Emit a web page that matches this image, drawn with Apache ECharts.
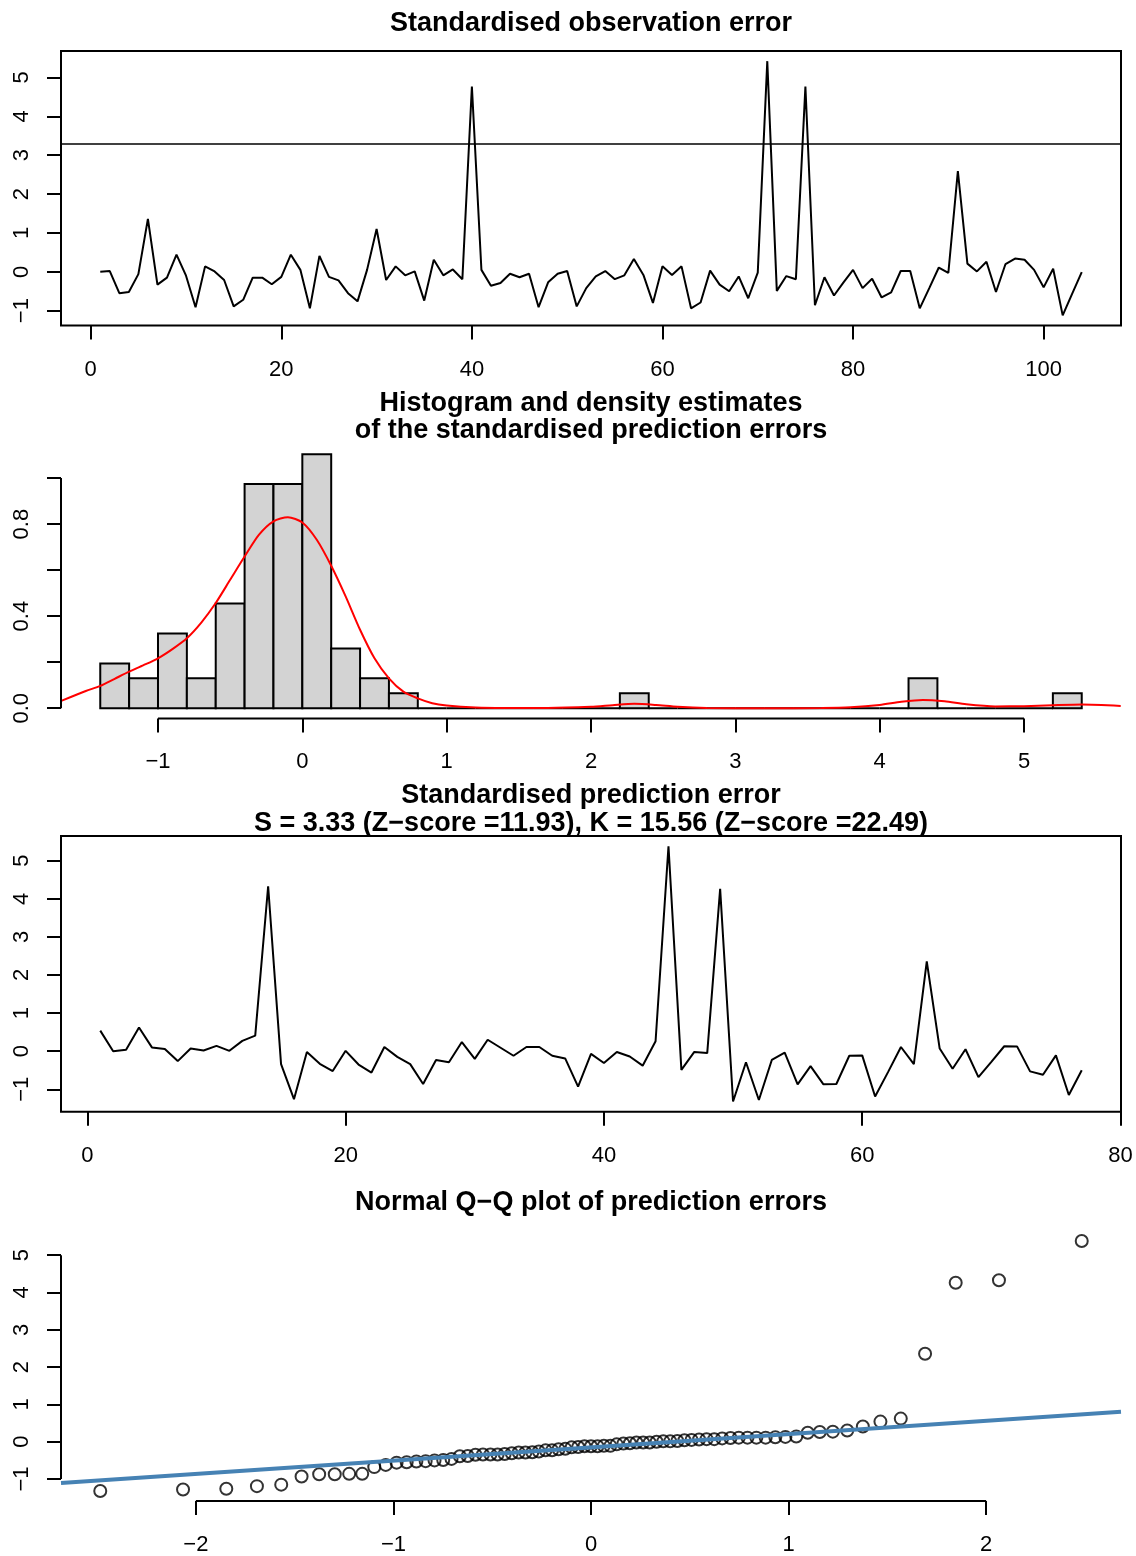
<!DOCTYPE html>
<html><head><meta charset="utf-8">
<script src="https://cdn.jsdelivr.net/npm/echarts@6/dist/echarts.min.js"></script>
<style>html,body{margin:0;padding:0;background:#fff}#c{width:1136px;height:1556px}</style>
</head><body><div id="c"></div>
<script>
// ---------- data ----------
const obsErr = [0.00,0.02,-0.55,-0.52,-0.06,1.36,-0.33,-0.15,0.44,-0.10,
  -0.91,0.14,0.01,-0.21,-0.89,-0.72,-0.15,-0.15,-0.32,-0.13,
  0.44,0.05,-0.94,0.41,-0.13,-0.22,-0.55,-0.76,0.05,1.10,
  -0.21,0.14,-0.09,0.01,-0.74,0.31,-0.09,0.06,-0.19,4.77,
  0.05,-0.36,-0.29,-0.05,-0.14,-0.05,-0.91,-0.27,-0.05,0.02,
  -0.89,-0.42,-0.12,0.02,-0.19,-0.09,0.33,-0.08,-0.80,0.14,
  -0.08,0.14,-0.94,-0.79,0.03,-0.33,-0.50,-0.12,-0.68,-0.02,
  5.42,-0.49,-0.11,-0.19,4.77,-0.86,-0.14,-0.61,-0.27,0.05,
  -0.42,-0.18,-0.66,-0.53,0.02,0.02,-0.94,-0.42,0.11,-0.03,
  2.59,0.21,0.01,0.26,-0.52,0.20,0.34,0.31,0.05,-0.40,
  0.08,-1.12,-0.56,-0.01];
const obsThreshold = 3.3;
const obsXTicks = [0,20,40,60,80,100];
const obsYTicks = [-1,0,1,2,3,4,5];

const predErr = [0.54,0.00,0.04,0.62,0.10,0.06,-0.26,0.07,0.02,0.14,
  0.01,0.27,0.41,4.33,-0.34,-1.26,-0.02,-0.33,-0.52,0.01,
  -0.35,-0.56,0.11,-0.15,-0.34,-0.86,-0.23,-0.29,0.24,-0.20,
  0.30,0.09,-0.12,0.11,0.11,-0.12,-0.19,-0.93,-0.07,-0.31,
  -0.02,-0.14,-0.38,0.26,5.38,-0.49,-0.02,-0.05,4.26,-1.32,
  -0.29,-1.28,-0.23,-0.04,-0.87,-0.39,-0.87,-0.86,-0.12,-0.11,
  -1.19,-0.55,0.11,-0.34,2.36,0.07,-0.46,0.05,-0.68,-0.28,
  0.13,0.12,-0.53,-0.62,-0.11,-1.15,-0.50];
const predXTicks = [0,20,40,60,80];
const predYTicks = [-1,0,1,2,3,4,5];

const histBreaks = [-1.4,-1.2,-1.0,-0.8,-0.6,-0.4,-0.2,0.0,0.2,0.4,0.6,0.8,1.0,1.2,1.4,1.6,1.8,2.0,
  2.2,2.4,2.6,2.8,3.0,3.2,3.4,3.6,3.8,4.0,4.2,4.4,4.6,4.8,5.0,5.2,5.4];
const histCounts = [3,2,5,2,7,15,15,17,4,2,1,0,0,0,0,0,0,0,1,0,0,0,0,0,0,0,0,0,2,0,0,0,0,1];
const densX = [-1.67,-1.5,-1.4,-1.3,-1.2,-1.1,-1.0,-0.9,-0.8,-0.7,-0.6,-0.5,-0.4,-0.3,-0.2,-0.1,0.0,
  0.1,0.2,0.3,0.4,0.5,0.6,0.7,0.8,0.9,1.0,1.2,1.4,1.7,2.0,2.15,2.3,2.45,2.6,2.8,3.2,3.6,3.8,4.0,
  4.15,4.3,4.45,4.6,4.8,5.0,5.2,5.4,5.67];
const densY = [0.032,0.075,0.097,0.128,0.159,0.187,0.217,0.257,0.304,0.372,0.457,0.558,0.659,0.754,0.812,0.830,0.807,
  0.732,0.619,0.486,0.341,0.217,0.130,0.072,0.043,0.022,0.012,0.003,0.001,0.001,0.006,0.013,0.019,0.014,0.006,0.001,0.000,0.001,0.004,0.014,
  0.028,0.036,0.030,0.017,0.008,0.009,0.013,0.016,0.010];
const histXTicks = [-1,0,1,2,3,4,5];
const histYTicks = [0,0.2,0.4,0.6,0.8,1.0];
const histYLabels = [0,0.4,0.8];

const qqTheo = [-2.484,-2.065,-1.846,-1.691,-1.568,-1.465,-1.376,-1.297,-1.224,-1.158,
  -1.097,-1.039,-0.984,-0.933,-0.884,-0.837,-0.792,-0.748,-0.706,-0.664,
  -0.624,-0.585,-0.547,-0.509,-0.473,-0.437,-0.401,-0.366,-0.332,-0.297,
  -0.264,-0.230,-0.197,-0.164,-0.130,-0.098,-0.065,-0.033,0.000,0.033,
  0.065,0.098,0.130,0.164,0.197,0.230,0.264,0.297,0.332,0.366,
  0.401,0.437,0.473,0.509,0.547,0.585,0.624,0.664,0.706,0.748,
  0.792,0.837,0.884,0.933,0.984,1.039,1.097,1.158,1.224,1.297,
  1.376,1.465,1.568,1.691,1.846,2.065,2.484];
const qqIntercept = -0.15;
const qqSlope = 0.356;
const qqXTicks = [-2,-1,0,1,2];
const qqYTicks = [-1,0,1,2,3,4,5];

// ---------- helpers ----------
const FONT = '"Liberation Sans", Arial, Helvetica, sans-serif';
function ext(lo, hi){ const d = (hi - lo) * 0.04; return [lo - d, hi + d]; }
function fmt(v){ const s = Math.abs(v) < 1e-9 ? '0' : String(v); return s.replace('-', '\u2212'); }
function fmt1(v){ return (Math.abs(v) < 1e-9 ? 0 : v).toFixed(1); }
const minOf = a => Math.min.apply(null, a), maxOf = a => Math.max.apply(null, a);

const obsX = ext(1, obsErr.length), obsY = ext(minOf(obsErr), maxOf(obsErr));
const predX = ext(1, predErr.length), predY = ext(minOf(predErr), maxOf(predErr));
const histDens = histCounts.map(c => c / (histCounts.reduce((a,b)=>a+b,0) * (histBreaks[1]-histBreaks[0])));
const histX = ext(histBreaks[0], histBreaks[histBreaks.length-1]), histY = ext(0, maxOf(histDens));
const qqY = predErr.slice().sort((a,b)=>a-b);
const qqXr = ext(minOf(qqTheo), maxOf(qqTheo)), qqYr = ext(minOf(qqY), maxOf(qqY));

const GRIDS = [
  {left:61, width:1060, top:51, height:274.5, show:true, borderColor:'#000', borderWidth:2, backgroundColor:'transparent'},
  {left:61, width:1060, top:444, height:274.4},
  {left:61, width:1060, top:836, height:275.7, show:true, borderColor:'#000', borderWidth:2, backgroundColor:'transparent'},
  {left:61, width:1060, top:1231, height:274}
];

function xAx(i, r, ticks, labels, f){
  return {gridIndex:i, type:'value', min:r[0], max:r[1], position:'bottom',
    axisLine:{show:false, onZero:false}, splitLine:{show:false},
    axisTick:{show:true, length:14, customValues:ticks, lineStyle:{color:'#000', width:2}},
    axisLabel:{customValues:labels, margin:33, fontSize:22, color:'#000', fontFamily:FONT, formatter:f}};
}
function yAx(i, r, ticks, labels, f){
  return {gridIndex:i, type:'value', min:r[0], max:r[1], position:'left',
    axisLine:{show:false, onZero:false}, splitLine:{show:false},
    axisTick:{show:true, length:14, customValues:ticks, lineStyle:{color:'#000', width:2}},
    axisLabel:{customValues:labels, rotate:90, margin:28, fontSize:22, color:'#000', fontFamily:FONT, formatter:f}};
}
function axisLineSeries(i, pts){
  return {type:'line', xAxisIndex:i, yAxisIndex:i, data:pts, clip:false, symbol:'none', silent:true,
    lineStyle:{color:'#000', width:2}, z:5};
}
const titleStyle = {fontSize:27, fontWeight:'bold', fontFamily:FONT, color:'#000'};

const option = {
  animation:false,
  backgroundColor:'#fff',
  title:[
    {text:'Standardised observation error', left:591, top:10, padding:0, textAlign:'center', textStyle:Object.assign({lineHeight:28}, titleStyle)},
    {text:'Histogram and density estimates\nof the standardised prediction errors', left:591, top:390, padding:0, textAlign:'center', textStyle:Object.assign({lineHeight:27}, titleStyle)},
    {text:'Standardised prediction error\nS = 3.33 (Z\u2212score =11.93), K = 15.56 (Z\u2212score =22.49)', left:591, top:782, padding:0, textAlign:'center', textStyle:Object.assign({lineHeight:28}, titleStyle)},
    {text:'Normal Q\u2212Q plot of prediction errors', left:591, top:1189, padding:0, textAlign:'center', textStyle:Object.assign({lineHeight:28}, titleStyle)}
  ],
  grid:GRIDS,
  xAxis:[
    xAx(0, obsX, obsXTicks, obsXTicks, fmt),
    xAx(1, histX, histXTicks, histXTicks, fmt),
    xAx(2, predX, predXTicks, predXTicks, fmt),
    xAx(3, qqXr, qqXTicks, qqXTicks, fmt)
  ],
  yAxis:[
    yAx(0, obsY, obsYTicks, obsYTicks, fmt),
    yAx(1, histY, histYTicks, histYLabels, fmt1),
    yAx(2, predY, predYTicks, predYTicks, fmt),
    yAx(3, qqYr, qqYTicks, qqYTicks, fmt)
  ],
  series:[
    {type:'line', name:'Standardised observation error', xAxisIndex:0, yAxisIndex:0,
      data:obsErr.map((v,k)=>[k+1, v]), symbol:'none', lineStyle:{color:'#000', width:2},
      markLine:{silent:true, symbol:'none', label:{show:false}, lineStyle:{color:'#000', width:1.5, type:'solid'},
        data:[{yAxis:obsThreshold}]}},
    {type:'custom', name:'Histogram', xAxisIndex:1, yAxisIndex:1,
      data:histCounts.map((c,k)=>[histBreaks[k], histBreaks[k+1], histDens[k]]),
      renderItem:function(params, api){
        const p0 = api.coord([api.value(0), 0]);
        const p1 = api.coord([api.value(1), api.value(2)]);
        return {type:'rect', shape:{x:p0[0], y:p1[1], width:p1[0]-p0[0], height:p0[1]-p1[1]},
          style:{fill:'#D3D3D3', stroke:'#000', lineWidth:2}};
      }, z:2},
    {type:'line', name:'Density', xAxisIndex:1, yAxisIndex:1, data:densX.map((x,k)=>[x, densY[k]]),
      symbol:'none', smooth:0.25, lineStyle:{color:'#FF0000', width:2}, z:3},
    axisLineSeries(1, [[histXTicks[0], histY[0]], [histXTicks[histXTicks.length-1], histY[0]]]),
    axisLineSeries(1, [[histX[0], histYTicks[0]], [histX[0], histYTicks[histYTicks.length-1]]]),
    {type:'line', name:'Standardised prediction error', xAxisIndex:2, yAxisIndex:2,
      data:predErr.map((v,k)=>[k+1, v]), symbol:'none', lineStyle:{color:'#000', width:2}},
    {type:'scatter', name:'Q-Q points', xAxisIndex:3, yAxisIndex:3,
      data:qqTheo.map((x,k)=>[x, qqY[k]]), symbol:'circle', symbolSize:12,
      itemStyle:{color:'rgba(0,0,0,0)', borderColor:'#000', borderWidth:2}, z:2},
    {type:'line', name:'Q-Q line', xAxisIndex:3, yAxisIndex:3,
      data:[[qqXr[0], qqIntercept + qqSlope*qqXr[0]], [qqXr[1], qqIntercept + qqSlope*qqXr[1]]],
      symbol:'none', lineStyle:{color:'#4682B4', width:4}, z:3},
    axisLineSeries(3, [[qqXTicks[0], qqYr[0]], [qqXTicks[qqXTicks.length-1], qqYr[0]]]),
    axisLineSeries(3, [[qqXr[0], qqYTicks[0]], [qqXr[0], qqYTicks[qqYTicks.length-1]]])
  ]
};
const chart = echarts.init(document.getElementById('c'), null, {renderer:'canvas'});
chart.setOption(option);
</script>
</body></html>
